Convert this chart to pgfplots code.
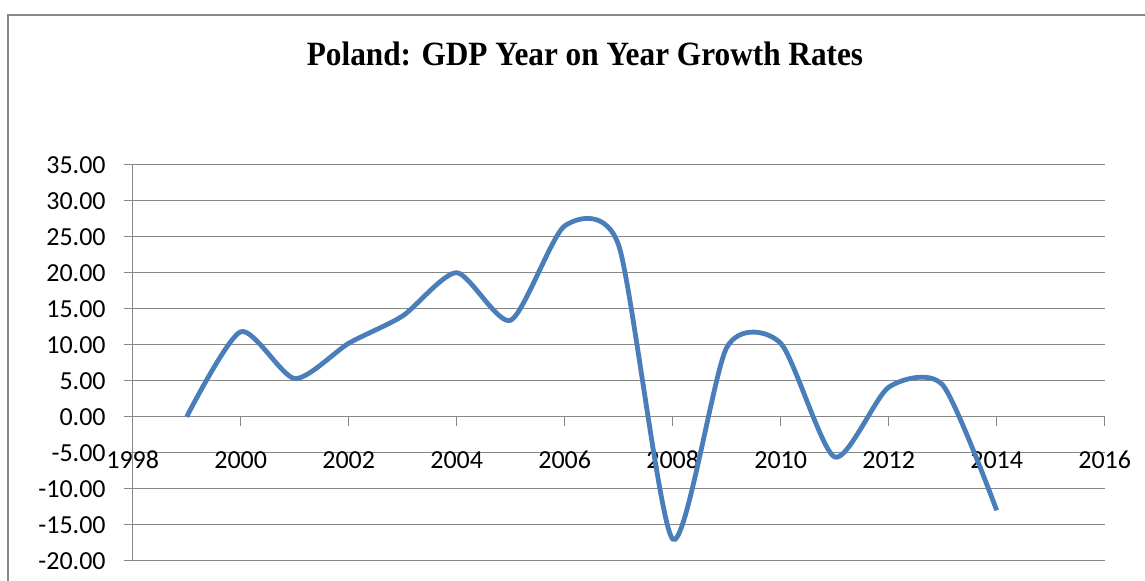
\documentclass[border=0pt]{standalone}
\usepackage{pgfplots}
\pgfplotsset{compat=1.18}
\usepackage{fontspec}
\setmainfont{Carlito}
\newfontfamily\titlefont[FakeStretch=0.92]{Liberation Serif}
\definecolor{excelblue}{HTML}{4A7EBB}
\definecolor{gridgray}{HTML}{878787}
\begin{document}
\begin{tikzpicture}
\begin{scope}[x=0.5pt,y=0.5pt]
\useasboundingbox (0,0) rectangle (1145,580);
\draw[gridgray,line width=1pt] (8.3,-10) -- (8.3,565) -- (1160,565);
\node[anchor=base,font=\titlefont\bfseries\fontsize{17}{19}\selectfont] at (585,515) {Poland: GDP Year on Year Growth Rates};
\end{scope}
\begin{axis}[
  at={(66.35pt,9.65pt)}, anchor=south west,
  scale only axis, width=486pt, height=198pt,
  xmin=1998, xmax=2016, ymin=-20, ymax=35,
  axis x line=middle, axis y line=left,
  hide obscured x ticks=false,
  axis line style={-,gridgray,line width=0.7pt},
  xtick={1998,2000,...,2016},
  xticklabels={1998,2000,2002,2004,2006,2008,2010,2012,2014,2016},
  ytick={-20,-15,...,35},
  yticklabels={-20.00,-15.00,-10.00,-5.00,0.00,5.00,10.00,15.00,20.00,25.00,30.00,35.00},
  tick align=outside, major tick length=4.5pt,
  tick style={gridgray,line width=0.7pt},
  ymajorgrids, grid style={gridgray,line width=0.7pt},
  tick label style={font=\fontsize{13}{15}\selectfont,text=black},
  xticklabel style={anchor=north, text height=9pt, text depth=0pt, yshift=-9pt},
  yticklabel style={xshift=-5.5pt},
  clip=false,
]
\addplot[excelblue, line width=2.4pt, smooth, tension=0.42] coordinates {
(1999,0) (2000,11.8) (2001,5.3) (2002,10.2) (2003,14.0) (2004,20.0)
(2005,13.4) (2006,26.5) (2007,23.8) (2008,-17.0) (2009,9.6) (2010,10.2)
(2011,-5.6) (2012,4.1) (2013,4.4) (2014,-13.0)
};
\end{axis}
\end{tikzpicture}
\end{document}
